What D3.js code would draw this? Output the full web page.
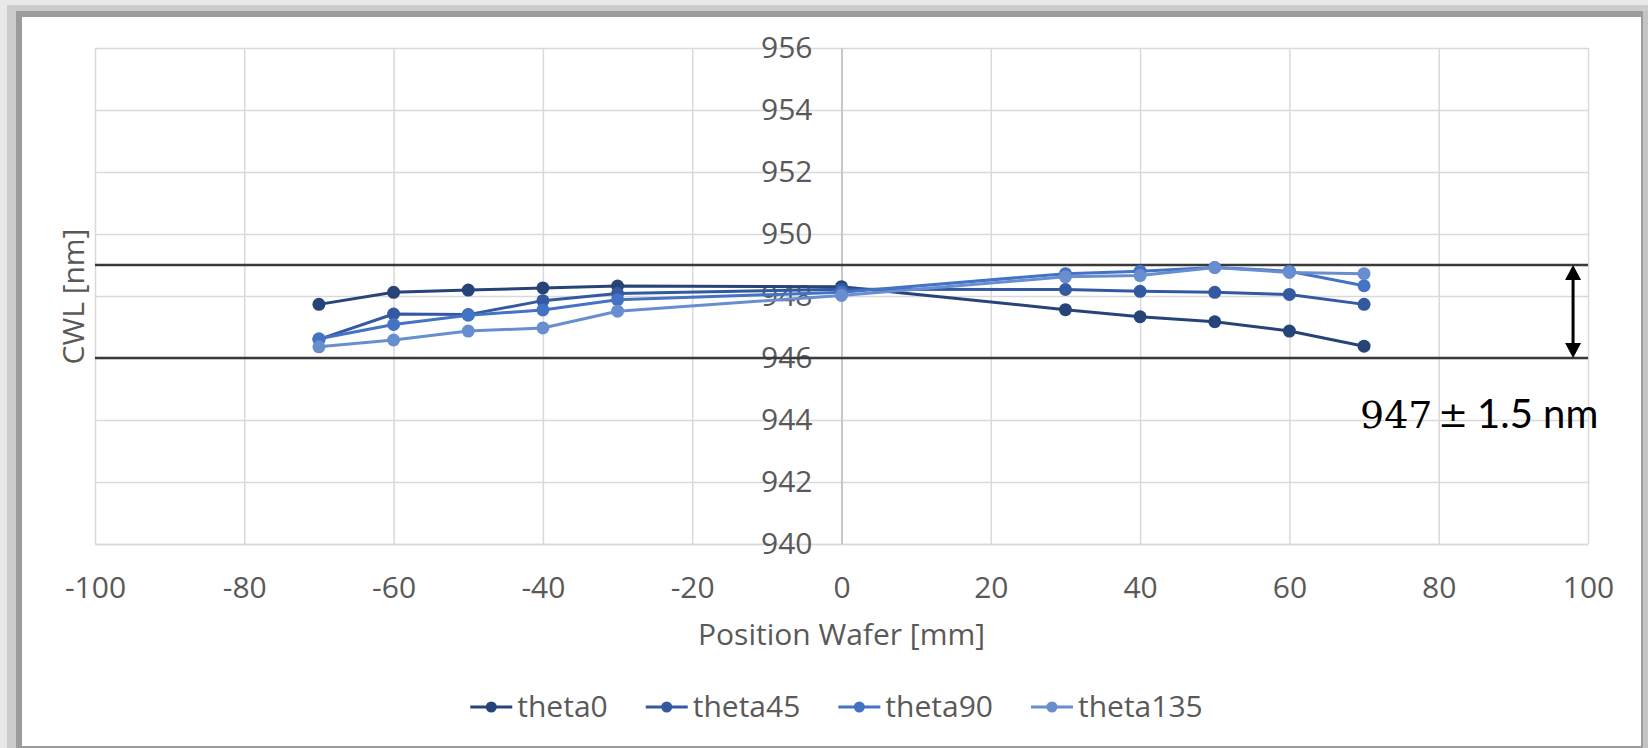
<!DOCTYPE html>
<html>
<head>
<meta charset="utf-8">
<script src="https://cdn.jsdelivr.net/npm/d3@7"></script>
<style>
  html, body { margin: 0; padding: 0; background: #cfcfcf; }
  svg { display: block; }
  text { font-family: "Open Sans", "DejaVu Sans", sans-serif; }
</style>
</head>
<body>
<svg id="chart" width="1648" height="748"></svg>
<script>
// Wafer positions (mm) where CWL was measured
const positions = [-70, -60, -50, -40, -30, 0, 30, 40, 50, 60, 70];

// CWL per measuring angle (nm)
const theta0   = [947.73, 948.12, 948.19, 948.26, 948.32, 948.30, 947.56, 947.33, 947.17, 946.87, 946.38];
const theta45  = [946.60, 947.42, 947.40, 947.85, 948.08, 948.22, 948.21, 948.15, 948.12, 948.05, 947.73];
const theta90  = [946.62, 947.08, 947.38, 947.55, 947.88, 948.12, 948.72, 948.80, 948.92, 948.80, 948.33];
const theta135 = [946.36, 946.58, 946.87, 946.97, 947.51, 948.02, 948.62, 948.66, 948.92, 948.76, 948.72];

const seriesNames  = ["theta0", "theta45", "theta90", "theta135"];
const seriesValues = [theta0, theta45, theta90, theta135];
const seriesColors = ["#264478", "#335aa1", "#4472c4", "#698ed0"];

// Axis ticks
const xTicks = [-100, -80, -60, -40, -20, 0, 20, 40, 60, 80, 100];
const yTicks = [940, 942, 944, 946, 948, 950, 952, 954, 956];

// Tolerance band limits and its annotation
const bandLimits = [946, 949];
const bandArrowAt = 98;
const bandLabel = ["947", "\u00B1", "1.5 nm"];

const xTitle = "Position Wafer [mm]";
const yTitle = "CWL [nm]";

const svg = d3.select("#chart");
const W = 1648, H = 748;

// Page frame with a drop shadow edge
svg.append("rect").attr("x", 0).attr("y", 0).attr("width", W).attr("height", H).attr("fill", "#cccccc");
svg.append("rect").attr("x", 0).attr("y", 0).attr("width", W).attr("height", 5).attr("fill", "#e8e8e8");
svg.append("rect").attr("x", 0).attr("y", 0).attr("width", 7).attr("height", H).attr("fill", "#e8e8e8");
svg.append("rect").attr("x", 16).attr("y", 11).attr("width", W - 16).attr("height", H - 11).attr("fill", "#9c9c9c");
svg.append("rect").attr("x", 1643).attr("y", 11).attr("width", 5).attr("height", H - 11).attr("fill", "#c4c4c4");
svg.append("rect").attr("x", 22).attr("y", 17).attr("width", 1641 - 22).attr("height", 746 - 17).attr("fill", "#ffffff");

const plot = { left: 95, right: 1588, top: 48, bottom: 544 };

const x = d3.scaleLinear().domain([-100, 100]).range([plot.left, plot.right]);
const y = d3.scaleLinear().domain([940, 956]).range([plot.bottom, plot.top]);

const textColor = "#595959";
const gridColor = "#d9d9d9";
const fmt = d => String(d);   // plain hyphen-minus for negatives

// Horizontal gridlines
const gy = svg.append("g")
  .attr("transform", `translate(${plot.left},0)`)
  .call(d3.axisLeft(y).tickValues(yTicks).tickSize(-(plot.right - plot.left)).tickSizeOuter(0).tickFormat(""));
gy.select(".domain").remove();
gy.selectAll(".tick line").attr("stroke", gridColor).attr("stroke-width", 1.5);

// Vertical gridlines + x tick labels
const gx = svg.append("g")
  .attr("transform", `translate(0,${plot.bottom})`)
  .call(d3.axisBottom(x).tickValues(xTicks).tickFormat(fmt)
    .tickSize(-(plot.bottom - plot.top)).tickSizeOuter(0).tickPadding(33));
gx.select(".domain").attr("stroke", gridColor).attr("stroke-width", 1.5);
gx.selectAll(".tick line").attr("stroke", gridColor).attr("stroke-width", 1.5);
gx.selectAll(".tick text")
  .attr("fill", textColor).attr("font-size", 30)
  .style("font-family", '"Open Sans", sans-serif');

// Vertical axis crossing at x = 0 with its labels
const ay = svg.append("g")
  .attr("transform", `translate(${x(0)},0)`)
  .call(d3.axisLeft(y).tickValues(yTicks).tickFormat(fmt).tickSize(0).tickSizeOuter(0).tickPadding(29));
ay.select(".domain").attr("stroke", "#bfbfbf").attr("stroke-width", 1.5);
ay.selectAll(".tick text")
  .attr("fill", textColor).attr("font-size", 30)
  .style("font-family", '"Open Sans", sans-serif');

// Axis titles
svg.append("text")
  .attr("x", (plot.left + plot.right) / 2).attr("y", 645)
  .attr("text-anchor", "middle").attr("fill", textColor).attr("font-size", 30)
  .text(xTitle);
svg.append("text")
  .attr("transform", `translate(84,${(y(949) + y(946)) / 2 - 15}) rotate(-90)`)
  .attr("text-anchor", "middle").attr("fill", textColor).attr("font-size", 30)
  .text(yTitle);

// Tolerance limit lines
svg.append("g").selectAll("line").data(bandLimits).join("line")
  .attr("x1", plot.left).attr("x2", plot.right)
  .attr("y1", d => y(d)).attr("y2", d => y(d))
  .attr("stroke", "#3a3a3a").attr("stroke-width", 2.6);

// Data series
const line = d3.line().x(d => x(d.p)).y(d => y(d.v));
const seriesData = seriesNames.map((name, i) => ({
  name, color: seriesColors[i],
  points: positions.map((p, j) => ({ p, v: seriesValues[i][j] }))
}));

const sg = svg.append("g").selectAll("g").data(seriesData).join("g");
sg.append("path")
  .attr("d", d => line(d.points))
  .attr("fill", "none").attr("stroke", d => d.color)
  .attr("stroke-width", 3).attr("stroke-linejoin", "round");
sg.selectAll("circle").data(d => d.points.map(pt => ({ ...pt, color: d.color }))).join("circle")
  .attr("cx", d => x(d.p)).attr("cy", d => y(d.v)).attr("r", 6.5)
  .attr("fill", d => d.color);

// Double-headed arrow spanning the tolerance band
const ax = x(bandArrowAt);
const yTop = y(bandLimits[1]), yBot = y(bandLimits[0]);
const headL = 15, headW = 8;
svg.append("line")
  .attr("x1", ax).attr("x2", ax).attr("y1", yTop + headL - 2).attr("y2", yBot - headL + 2)
  .attr("stroke", "#000").attr("stroke-width", 3);
svg.append("path")
  .attr("d", `M${ax},${yTop} L${ax - headW},${yTop + headL} L${ax + headW},${yTop + headL} Z`)
  .attr("fill", "#000");
svg.append("path")
  .attr("d", `M${ax},${yBot} L${ax - headW},${yBot - headL} L${ax + headW},${yBot - headL} Z`)
  .attr("fill", "#000");

// Band annotation
const labelBase = 428;
svg.append("text").attr("x", 1360).attr("y", labelBase)
  .attr("font-size", 38).style("font-family", '"DejaVu Serif", serif').attr("fill", "#000")
  .text(bandLabel[0]);
svg.append("text").attr("x", 1453).attr("y", labelBase - 1)
  .attr("text-anchor", "middle")
  .attr("font-size", 36).style("font-family", '"DejaVu Serif", serif').attr("fill", "#000")
  .text(bandLabel[1]);
svg.append("text").attr("x", 1477).attr("y", labelBase)
  .attr("font-size", 40).style("font-family", 'Lato, "Open Sans", sans-serif').attr("fill", "#000")
  .text(bandLabel[2]);

// Legend, centred under the plot
const legendY = 707;
const symLen = 42, gapText = 5, gapItem = 38;
const lg = svg.append("g");
const items = lg.selectAll("g").data(seriesData).join("g");
items.append("line")
  .attr("x1", 0).attr("x2", symLen).attr("y1", legendY).attr("y2", legendY)
  .attr("stroke", d => d.color).attr("stroke-width", 3);
items.append("circle")
  .attr("cx", symLen / 2).attr("cy", legendY).attr("r", 5.5).attr("fill", d => d.color);
items.append("text")
  .attr("x", symLen + gapText).attr("y", legendY + 10)
  .attr("fill", textColor).attr("font-size", 30)
  .text(d => d.name);
const widths = [];
items.each(function () {
  widths.push(symLen + gapText + d3.select(this).select("text").node().getComputedTextLength());
});
const totalW = d3.sum(widths) + gapItem * (widths.length - 1);
let start = 836.5 - totalW / 2;
items.attr("transform", (d, i) => {
  const t = `translate(${start},0)`;
  start += widths[i] + gapItem;
  return t;
});
</script>
</body>
</html>
